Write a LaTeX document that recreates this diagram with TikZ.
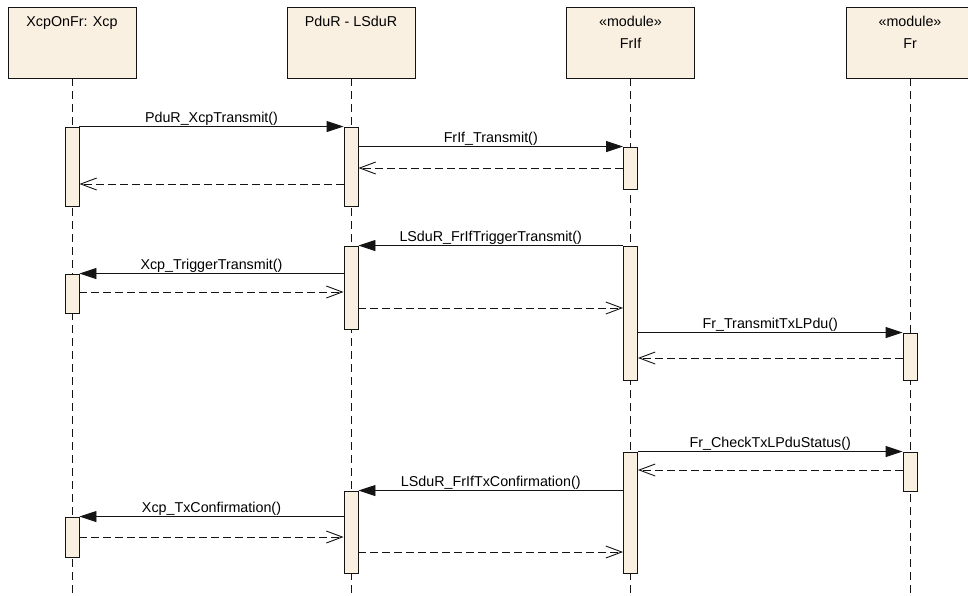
\documentclass[tikz,border=0pt]{standalone}
\usepackage{fontspec}
\setmainfont{Liberation Sans}
\usetikzlibrary{arrows.meta}
\definecolor{boxfill}{RGB}{250,240,226}
\definecolor{ink}{RGB}{20,20,20}
\tikzset{
  lifebox/.style={draw=ink, line width=0.9pt, fill=boxfill, minimum width=128pt,
    minimum height=71pt, inner sep=0pt},
  headtext/.style={anchor=base, inner sep=0pt, font=\fontsize{14.3}{16}\selectfont},
  lifeline/.style={draw=ink, line width=0.9pt, dash pattern=on 8pt off 5pt},
  actbar/.style={draw=ink, line width=0.9pt, fill=boxfill, minimum width=14pt, inner sep=0pt},
  call/.style={draw=ink, line width=0.9pt, -{Triangle[length=17pt,width=11pt]}},
  reply/.style={draw=ink, line width=0.9pt, dash pattern=on 8pt off 4pt,
    -{Straight Barb[length=16pt,width=12pt,line width=0.9pt]}},
  msglabel/.style={midway, anchor=base, yshift=4.5pt, inner sep=0pt,
    font=\fontsize{14.3}{16}\selectfont}
}
% activation bar: name, x, top y, bottom y
\newcommand\activation[4]{%
  \node[actbar, minimum height={#4-#3}] (#1) at (#2,{(#3+#4)/2}) {};}
\begin{document}
\begin{tikzpicture}[x=1pt, y=-1pt]
\useasboundingbox (0,0) rectangle (968,595);

% participants
\node[lifebox] (xcp) at (72,42.5) {};
\node[headtext] (xcpname) at (72,26) {XcpOnFr: Xcp};
\node[lifebox] (pdur) at (351,42.5) {};
\node[headtext] (pdurname) at (351,26) {PduR - LSduR};
\node[lifebox] (frif) at (630.5,42.5) {};
\node[headtext] (frifst) at (630.5,26) {«module»};
\node[headtext] (frifname) at (630.5,48) {FrIf};
\node[lifebox] (fr) at (910,42.5) {};
\node[headtext] (frst) at (910,26) {«module»};
\node[headtext] (frname) at (910,48) {Fr};

% lifelines
\coordinate (xcpend) at (72,595);
\coordinate (pdurend) at (351,595);
\coordinate (frifend) at (630.5,595);
\coordinate (frend) at (910,595);
\draw[lifeline] (xcp.south) -- (xcpend);
\draw[lifeline] (pdur.south) -- (pdurend);
\draw[lifeline] (frif.south) -- (frifend);
\draw[lifeline] (fr.south) -- (frend);

% activations
\activation{xa1}{72}{127}{206}
\activation{pa1}{351}{127}{206}
\activation{fa1}{630.5}{147}{189}
\activation{pa2}{351}{246}{329}
\activation{fa2}{630.5}{246}{380}
\activation{xa2}{72}{274}{313}
\activation{ra1}{910}{333}{380}
\activation{fa3}{630.5}{452}{573}
\activation{ra2}{910}{452}{491}
\activation{pa3}{351}{491}{573}
\activation{xa3}{72}{517}{557}

% transmit request
\draw[call] (xa1.north east) -- (pa1.north west) node[msglabel] {PduR\_XcpTransmit()};
\draw[call] (pa1.east |- fa1.north) -- (fa1.north west) node[msglabel] {FrIf\_Transmit()};
\draw[reply] (fa1.west |- 0,168) -- (pa1.east |- 0,168);
\draw[reply] (pa1.west |- 0,184) -- (xa1.east |- 0,184);

% trigger transmit
\draw[call] (fa2.north west) -- (pa2.north east) node[msglabel] {LSduR\_FrIfTriggerTransmit()};
\draw[call] (pa2.west |- xa2.north) -- (xa2.north east) node[msglabel] {Xcp\_TriggerTransmit()};
\draw[reply] (xa2.east |- 0,292) -- (pa2.west |- 0,292);
\draw[reply] (pa2.east |- 0,308) -- (fa2.west |- 0,308);
\draw[call] (fa2.east |- ra1.north) -- (ra1.north west) node[msglabel] {Fr\_TransmitTxLPdu()};
\draw[reply] (ra1.west |- 0,358) -- (fa2.east |- 0,358);

% tx confirmation
\draw[call] (fa3.north east) -- (ra2.north west) node[msglabel] {Fr\_CheckTxLPduStatus()};
\draw[reply] (ra2.west |- 0,470) -- (fa3.east |- 0,470);
\draw[call] (fa3.west |- pa3.north) -- (pa3.north east) node[msglabel] {LSduR\_FrIfTxConfirmation()};
\draw[call] (pa3.west |- xa3.north) -- (xa3.north east) node[msglabel] {Xcp\_TxConfirmation()};
\draw[reply] (xa3.east |- 0,537) -- (pa3.west |- 0,537);
\draw[reply] (pa3.east |- 0,552) -- (fa3.west |- 0,552);
\end{tikzpicture}
\end{document}
